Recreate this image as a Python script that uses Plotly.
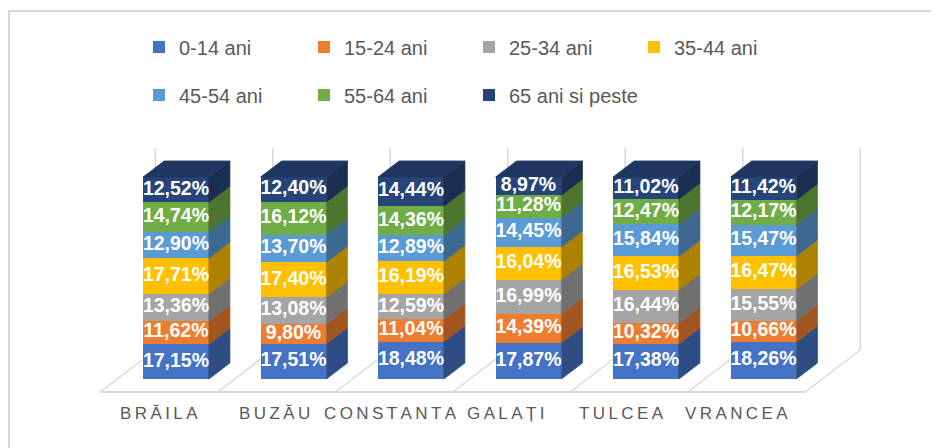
import plotly.graph_objects as go

# ---------------- data ----------------
categories = ["BRĂILA", "BUZĂU", "CONSTANTA", "GALAȚI", "TULCEA", "VRANCEA"]
series_names = ["0-14 ani", "15-24 ani", "25-34 ani", "35-44 ani",
                "45-54 ani", "55-64 ani", "65 ani si peste"]
v_0_14 = [17.15, 17.51, 18.48, 17.87, 17.38, 18.26]
v_15_24 = [11.62, 9.80, 11.04, 14.39, 10.32, 10.66]
v_25_34 = [13.36, 13.08, 12.59, 16.99, 16.44, 15.55]
v_35_44 = [17.71, 17.40, 16.19, 16.04, 16.53, 16.47]
v_45_54 = [12.90, 13.70, 12.89, 14.45, 15.84, 15.47]
v_55_64 = [14.74, 16.12, 14.36, 11.28, 12.47, 12.17]
v_65_plus = [12.52, 12.40, 14.44, 8.97, 11.02, 11.42]
series_values = [v_0_14, v_15_24, v_25_34, v_35_44, v_45_54, v_55_64, v_65_plus]

colors = ["#4472C4", "#ED7D31", "#A5A5A5", "#FFC000", "#5B9BD5", "#70AD47", "#264478"]
legend_groups = ["legend", "legend", "legend", "legend", "legend2", "legend2", "legend3"]

# ---------------- geometry (layout only) ----------------
W, H = 939, 448
PAGE_OFF = 8.0                      # page body margin
X0_PX, UNIT_PX = 176.0 - PAGE_OFF, 117.5   # first category front-face centre, px per category
Y0_PX, PCT_PX = 379.0 - PAGE_OFF, 2.02     # pixel of 0 %, px per percent
x_range = [-X0_PX / UNIT_PX, (W - X0_PX) / UNIT_PX]
y_range = [(Y0_PX - H) / PCT_PX, Y0_PX / PCT_PX]
BAR_W = 0.56
HW = BAR_W / 2
DEPTH_X, DEPTH_Y = 21 / UNIT_PX, 16 / PCT_PX          # bar depth in axis units
FLOOR_FX, FLOOR_FY = -17 / UNIT_PX, -13 / PCT_PX      # floor front edge offset
FLOOR_BX, FLOOR_BY = 38 / UNIT_PX, 29 / PCT_PX        # floor back edge offset
WALL_H = 100.0
GRID = "#D9D9D9"
FONT = "Liberation Sans, Arial, sans-serif"


def shade(hex_color, k):
    r, g, b = (int(hex_color[i:i + 2], 16) for i in (1, 3, 5))
    return "#{:02X}{:02X}{:02X}".format(int(r * k), int(g * k), int(b * k))


def fmt(v):
    return ("%.2f%%" % v).replace(".", ",")


xs = list(range(len(categories)))
fig = go.Figure()

# front faces (stacked bars)
for name, vals, col, lg in zip(series_names, series_values, colors, legend_groups):
    fig.add_trace(go.Bar(
        x=xs, y=vals, name=name, width=BAR_W,
        marker=dict(color=col, line=dict(width=0)),
        legend=lg, hoverinfo="skip",
    ))

# side faces, labels
label_traces = []
base = [0.0] * len(xs)
for vals, col in zip(series_values, colors):
    px, py = [], []
    for i, v in enumerate(vals):
        b, t = base[i], base[i] + v
        x1 = xs[i] + HW
        px += [x1, x1 + DEPTH_X, x1 + DEPTH_X, x1, x1, None]
        py += [b, b + DEPTH_Y, t + DEPTH_Y, t, b, None]
    sc = shade(col, 0.68)
    fig.add_trace(go.Scatter(x=px, y=py, mode="lines", fill="toself",
                             fillcolor=sc, line=dict(color=sc, width=0.8),
                             showlegend=False, hoverinfo="skip"))
    mids = [base[i] + v / 2 for i, v in enumerate(vals)]
    label_traces.append(go.Scatter(x=xs, y=mids, mode="text",
                                   text=[fmt(v) for v in vals],
                                   textposition="middle center",
                                   textfont=dict(color="white", size=19.5, family=FONT, weight="bold"),
                                   showlegend=False, hoverinfo="skip"))
    base = [base[i] + v for i, v in enumerate(vals)]

# top faces
tx, ty = [], []
for i, t in enumerate(base):
    tx += [xs[i] - HW, xs[i] + HW, xs[i] + HW + DEPTH_X, xs[i] - HW + DEPTH_X, xs[i] - HW, None]
    ty += [t, t, t + DEPTH_Y, t + DEPTH_Y, t, None]
top_col = shade(colors[-1], 0.8)
fig.add_trace(go.Scatter(x=tx, y=ty, mode="lines", fill="toself", fillcolor=top_col,
                         line=dict(color=top_col, width=0.8),
                         showlegend=False, hoverinfo="skip"))

for tr in label_traces:
    fig.add_trace(tr)

# floor and back wall lines
shapes = []
n = len(categories)
fl, fr = -0.5 + FLOOR_FX, n - 0.5 + FLOOR_FX
shapes.append(dict(type="line", xref="x", yref="y", x0=fl, x1=fr, y0=FLOOR_FY, y1=FLOOR_FY,
                   line=dict(color=GRID, width=2), layer="below"))
for k in range(n + 1):
    u = k - 0.5
    shapes.append(dict(type="line", xref="x", yref="y",
                       x0=u + FLOOR_FX, y0=FLOOR_FY, x1=u + FLOOR_BX, y1=FLOOR_BY,
                       line=dict(color=GRID, width=1.5), layer="below"))
    shapes.append(dict(type="line", xref="x", yref="y",
                       x0=u + FLOOR_BX, y0=FLOOR_BY, x1=u + FLOOR_BX, y1=FLOOR_BY + WALL_H,
                       line=dict(color=GRID, width=1.5), layer="below"))
# chart border
shapes.append(dict(type="rect", xref="paper", yref="paper",
                   x0=(9 - PAGE_OFF) / W, x1=1.2, y0=-0.2, y1=1 - (11 - PAGE_OFF) / H,
                   line=dict(color=GRID, width=2), layer="below"))

# category labels
LABEL_STEP = 0.983
LABEL_Y = (Y0_PX - (413 - PAGE_OFF)) / PCT_PX
annotations = []
for i, c in enumerate(categories):
    annotations.append(dict(x=FLOOR_FX + i * LABEL_STEP, y=LABEL_Y, xref="x", yref="y",
                            text="\u2009".join(c), showarrow=False,
                            xanchor="center", yanchor="middle",
                            font=dict(size=17, color="#595959", family=FONT)))

LEG_X = 139 - PAGE_OFF
LEG_STEP = 165
legend_common = dict(orientation="h", xanchor="left", yanchor="middle",
                     traceorder="normal", bgcolor="rgba(0,0,0,0)",
                     font=dict(size=20, color="#595959", family=FONT),
                     itemclick=False, itemdoubleclick=False)

fig.update_layout(
    width=W, height=H,
    margin=dict(l=0, r=0, t=0, b=0),
    paper_bgcolor="white", plot_bgcolor="white",
    barmode="stack",
    showlegend=True,
    xaxis=dict(range=x_range, visible=False, fixedrange=True),
    yaxis=dict(range=y_range, visible=False, fixedrange=True),
    legend=dict(x=LEG_X / W, y=1 - (47 - PAGE_OFF) / H,
                entrywidth=LEG_STEP - 45, entrywidthmode="pixels", **legend_common),
    legend2=dict(x=LEG_X / W, y=1 - (95 - PAGE_OFF) / H,
                 entrywidth=LEG_STEP - 45, entrywidthmode="pixels", **legend_common),
    legend3=dict(x=(LEG_X + 2 * LEG_STEP) / W, y=1 - (95 - PAGE_OFF) / H, **legend_common),
    shapes=shapes,
    annotations=annotations,
)

fig.write_html("out.html")
